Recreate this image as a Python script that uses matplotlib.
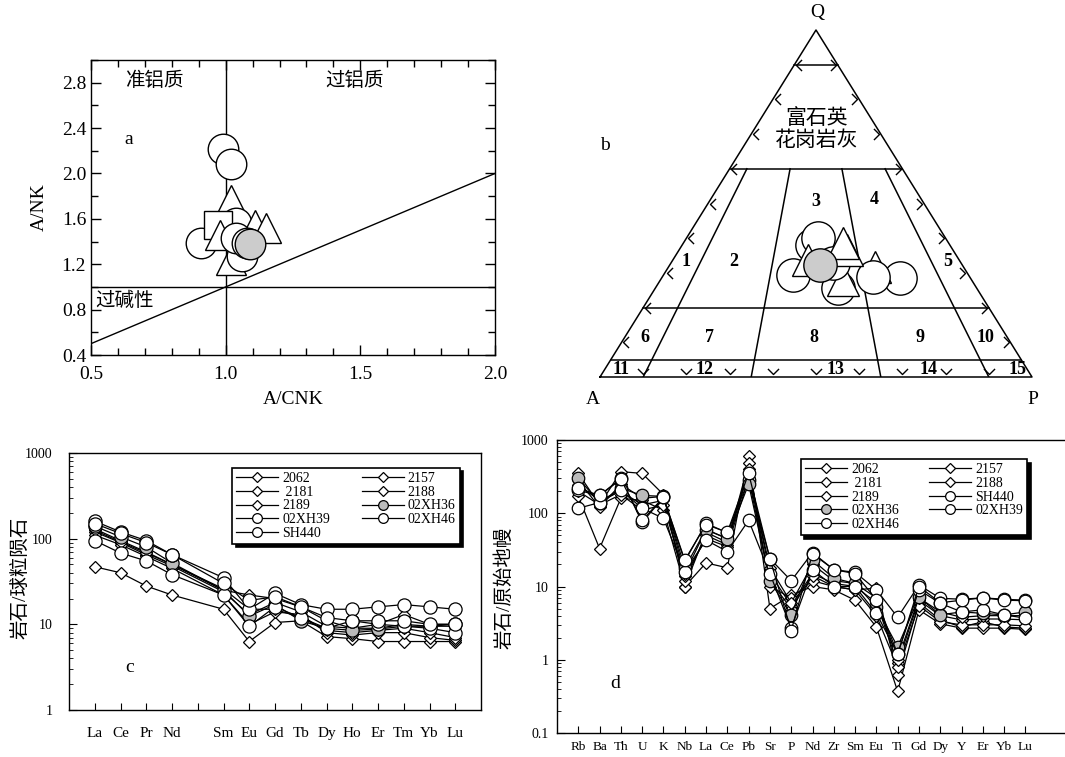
import matplotlib
matplotlib.use('Agg')
import matplotlib.pyplot as plt
import numpy as np
from matplotlib.path import Path
from matplotlib.ticker import LogLocator, NullFormatter, FixedLocator, MultipleLocator
from matplotlib.lines import Line2D

plt.rcParams['font.family'] = ['Liberation Serif', 'Noto Sans CJK SC']
plt.rcParams['axes.linewidth'] = 1.0

# ---------------- Panel a data (A/CNK vs A/NK) ----------------
a_x = [0.99, 1.02, 1.02, 1.04, 0.91, 0.97, 0.98, 1.11, 1.15, 1.02, 1.06, 1.04, 1.08, 1.09]
a_y = [2.22, 2.08, 1.77, 1.56, 1.39, 1.55, 1.46, 1.55, 1.52, 1.24, 1.27, 1.43, 1.39, 1.38]
a_kind = ['o', 'o', '^', 'o', 'o', 's', '^', '^', '^', '^', 'o', 'o', 'o', 'g']

# ---------------- Panel b data (QAP ternary) ----------------
b_Q = [0.284, 0.318, 0.289, 0.256, 0.280, 0.294, 0.380, 0.400, 0.328, 0.337, 0.366, 0.385, 0.323]
b_P = [0.552, 0.478, 0.488, 0.424, 0.423, 0.300, 0.300, 0.305, 0.376, 0.314, 0.388, 0.371, 0.348]
b_kind = ['o', '^', 'o', 'o', '^', 'o', 'o', 'o', 'o', '^', '^', '^', 'g']
b_A = [1 - q - p for q, p in zip(b_Q, b_P)]

# ---------------- Panel c data (REE / chondrite) ----------------
ree = ['La', 'Ce', 'Pr', 'Nd', '', 'Sm', 'Eu', 'Gd', 'Tb', 'Dy', 'Ho', 'Er', 'Tm', 'Yb', 'Lu']
ree_pos = [1, 2, 3, 4, 6, 7, 8, 9, 10, 11, 12, 13, 14, 15]
c_2062 = [47, 40, 28, 22, 15, 6.3, 10.5, 11, 7.2, 6.8, 6.3, 6.3, 6.3, 6.3]
c_2157 = [130, 95, 70, 50, 25, 22, 20, 16, 11, 9, 10, 13, 10, 10]
c_2181 = [120, 90, 65, 48, 24, 13, 18, 14, 9.5, 9, 9, 10, 9.5, 9.5]
c_2188 = [110, 85, 62, 45, 22, 10, 14, 13, 8, 7.5, 8, 8, 7, 6.5]
c_2189 = [125, 92, 68, 50, 26, 15, 15, 12, 8.5, 8, 8.5, 9, 8, 7]
c_02XH36 = [140, 105, 80, 52, 25, 12.5, 17, 11, 9, 8.5, 8.8, 9.5, 9.5, 10]
c_02XH39 = [95, 68, 55, 38, 22, 9.5, 16, 12, 9, 11, 10, 9.5, 9, 8]
c_02XH46 = [160, 120, 95, 65, 35, 15, 23, 17, 15, 15, 16, 17, 16, 15]
c_SH440 = [150, 115, 90, 65, 30, 19, 21, 16, 12, 11, 11, 11, 10, 10]

# ---------------- Panel d data (spider / primitive mantle) ----------------
spd = ['Rb', 'Ba', 'Th', 'U', 'K', 'Nb', 'La', 'Ce', 'Pb', 'Sr', 'P', 'Nd', 'Zr', 'Sm',
       'Eu', 'Ti', 'Gd', 'Dy', 'Y', 'Er', 'Yb', 'Lu']
d_2062 = [170, 33, 160, 150, 110, 10, 21, 18, 600, 5, 7.6, 10, 9, 6.5, 2.8, 0.37, 4.8, 3.1, 2.7, 2.7, 2.7, 2.6]
d_2157 = [350, 130, 370, 350, 180, 10, 55, 40, 480, 10, 7, 12, 10, 9, 9.5, 0.62, 6, 3.5, 2.8, 3.3, 2.8, 2.7]
d_2181 = [240, 150, 200, 130, 150, 12, 50, 37, 400, 15, 5.5, 15, 11, 10, 6, 0.9, 6.5, 4, 3.5, 3.6, 3.6, 3.5]
d_2188 = [200, 130, 180, 110, 130, 14, 45, 35, 300, 12, 5, 14, 10, 9, 4, 0.8, 5.5, 3.3, 3, 3, 3, 2.9]
d_2189 = [280, 120, 250, 160, 170, 15, 60, 45, 350, 18, 6, 20, 12, 11, 7, 1.0, 7, 4.5, 3.8, 4, 4, 4]
d_SH440 = [205, 175, 300, 75, 165, 22, 73, 54, 285, 24, 12, 29, 17, 15.6, 9, 3.8, 10.5, 6.9, 6.7, 7, 6.7, 6.5]
d_02XH36 = [300, 140, 220, 175, 170, 18, 60, 45, 250, 12, 4.1, 23, 13, 11, 5.2, 1.5, 7.1, 4.1, 4.5, 4.3, 4.1, 4.5]
d_02XH39 = [117, 140, 205, 117, 85, 16, 43, 30, 80, 15, 2.7, 17, 10, 10, 4.3, 1.2, 9, 5.9, 4.5, 4.8, 4.1, 3.7]
d_02XH46 = [220, 175, 290, 80, 165, 23, 70, 55, 350, 24, 2.5, 28, 17, 15, 6.6, 1.2, 10, 6, 6.5, 7, 6.5, 6.4]

fig = plt.figure(figsize=(10.65, 7.57), dpi=100)

def mk_style(kind, size):
    if kind == 'g':
        return dict(marker='o', ms=size, mfc='#cccccc', mec='black', mew=1.0)
    if kind == 'o':
        return dict(marker='o', ms=size, mfc='white', mec='black', mew=1.0)
    if kind == '^':
        return dict(marker='^', ms=size * 0.95, mfc='white', mec='black', mew=1.0)
    if kind == 's':
        return dict(marker='s', ms=size * 0.9, mfc='white', mec='black', mew=1.0)

# ======================= Panel a =======================
axa = fig.add_axes([91 / 1065, 1 - 355 / 757, 404 / 1065, 295 / 757])
axa.set_xlim(0.5, 2.0)
axa.set_ylim(0.4, 3.0)
lx = np.array([0.5, 2.0])
axa.plot(lx, lx, color='black', lw=1.0)
axa.axhline(1.0, color='black', lw=1.0)
axa.axvline(1.0, color='black', lw=1.0)
for i, (x, y, k) in enumerate(zip(a_x, a_y, a_kind)):
    axa.plot([x], [y], ls='none', zorder=3 + i * 0.01, **mk_style(k, 22))
axa.xaxis.set_major_locator(FixedLocator([0.5, 1.0, 1.5, 2.0]))
axa.xaxis.set_minor_locator(MultipleLocator(0.1))
axa.yaxis.set_major_locator(FixedLocator([0.4, 0.8, 1.2, 1.6, 2.0, 2.4, 2.8]))
axa.yaxis.set_minor_locator(MultipleLocator(0.2))
axa.set_xticklabels(['0.5', '1.0', '1.5', '2.0'])
axa.set_yticklabels(['0.4', '0.8', '1.2', '1.6', '2.0', '2.4', '2.8'])
axa.tick_params(which='both', direction='in', top=True, right=True, labelsize=14)
axa.tick_params(which='major', length=7, width=1)
axa.tick_params(which='minor', length=5, width=1)
axa.tick_params(axis='x', pad=8)
axa.set_xlabel('A/CNK', fontsize=14, labelpad=6)
axa.set_ylabel('A/NK', fontsize=14, labelpad=10)
axa.text(0.735, 2.82, '准铝质', fontsize=14, ha='center', va='center')
axa.text(1.48, 2.82, '过铝质', fontsize=14, ha='center', va='center')
axa.text(0.625, 0.875, '过碱性', fontsize=14, ha='center', va='center')
axa.text(0.64, 2.3, 'a', fontsize=14, ha='center', va='center')

# ======================= Panel b =======================
axb = fig.add_axes([600 / 1065, 1 - 377 / 757, 432 / 1065, 347 / 757])
axb.set_xlim(0, 1)
axb.set_ylim(0, 1)
axb.axis('off')

def tern(q, p):
    return p + q / 2.0, q

lw = 1.1
axb.plot([0, 1, 0.5, 0], [0, 0, 1, 0], color='black', lw=lw, clip_on=False)
for q in [0.9, 0.6, 0.2, 0.05]:
    axb.plot([q / 2, 1 - q / 2], [q, q], color='black', lw=lw)
for r in [0.1, 0.35, 0.65, 0.9]:
    qq = np.array([0.6, 0.0])
    xs = (1 - qq) * r + qq / 2
    axb.plot(xs, qq, color='black', lw=lw)

chev_left = Path([(1, 1), (0, 0), (1, -1)], [Path.MOVETO, Path.LINETO, Path.LINETO])
chev_right = Path([(-1, 1), (0, 0), (-1, -1)], [Path.MOVETO, Path.LINETO, Path.LINETO])
chev_down = Path([(-1, 1), (0, 0), (1, 1)], [Path.MOVETO, Path.LINETO, Path.LINETO])
qs = np.arange(1, 10) / 10.0
axb.plot(qs / 2 + 0.004, qs, ls='none', marker=chev_left, ms=8, mfc='none', mec='black', mew=1.0)
axb.plot(1 - qs / 2 - 0.004, qs, ls='none', marker=chev_right, ms=8, mfc='none', mec='black', mew=1.0)
axb.plot(qs, np.full_like(qs, 0.008), ls='none', marker=chev_down, ms=8, mfc='none', mec='black', mew=1.0)

for i, (q, p, k) in enumerate(zip(b_Q, b_P, b_kind)):
    X, Y = tern(q, p)
    axb.plot([X], [Y], ls='none', zorder=3 + i * 0.01, **mk_style(k, 24))

def pxy(px, py):
    return (px - 600) / 432.0, (377 - py) / 347.0

def btext(px, py, s, **kw):
    x, y = pxy(px, py)
    axb.text(x, y, s, ha='center', va='center', clip_on=False, **kw)

btext(817, 13, 'Q', fontsize=14)
btext(593, 400, 'A', fontsize=14)
btext(1033, 400, 'P', fontsize=14)
btext(605, 146, 'b', fontsize=14)
btext(817, 119, '富石英', fontsize=15)
btext(817, 141, '花岗岩灰', fontsize=15)
nums = [('1', 686, 261), ('2', 734, 261), ('3', 816, 201), ('4', 874, 199), ('5', 948, 262),
        ('6', 645, 337), ('7', 710, 337), ('8', 814, 337), ('9', 920, 337), ('10', 985, 337),
        ('11', 621, 370), ('12', 705, 370), ('13', 836, 370), ('14', 929, 370), ('15', 1018, 370)]
for s, px, py in nums:
    btext(px, py, s, fontsize=13, fontweight='bold')

# ======================= Panel c =======================
axc = fig.add_axes([69 / 1065, 1 - 710 / 757, 412 / 1065, 257 / 757])
axc.set_yscale('log')
axc.set_xlim(0, 16)
axc.set_ylim(1, 1000)
c_series = [('2062', c_2062, 'D'), ('2157', c_2157, 'D'), (' 2181', c_2181, 'D'),
            ('2188', c_2188, 'D'), ('2189', c_2189, 'D'), ('02XH36', c_02XH36, 'g'),
            ('02XH39', c_02XH39, 'o'), ('02XH46', c_02XH46, 'o'), ('SH440', c_SH440, 'o')]
c_handles = {}
for lab, vals, k in c_series:
    if k == 'D':
        st = dict(marker='D', ms=6.5, mfc='white', mec='black', mew=0.9)
    elif k == 'g':
        st = dict(marker='o', ms=9.5, mfc='#bbbbbb', mec='black', mew=0.9)
    else:
        st = dict(marker='o', ms=9.5, mfc='white', mec='black', mew=0.9)
    ln, = axc.plot(ree_pos, vals, color='black', lw=0.9, **st)
    hst = dict(st)
    hst['ms'] = 5 if k == 'D' else 7
    c_handles[lab] = Line2D([], [], color='black', lw=0.9, **hst)
axc.set_xticks(range(1, 16))
axc.set_xticklabels(ree)
axc.yaxis.set_minor_locator(LogLocator(base=10, subs=np.arange(2, 10), numticks=20))
axc.yaxis.set_minor_formatter(NullFormatter())
axc.set_yticks([1, 10, 100, 1000])
axc.set_yticklabels(['1', '10', '100', '1000'])
axc.tick_params(which='both', direction='in')
axc.tick_params(axis='x', labelsize=11, pad=12, length=5)
axc.tick_params(axis='y', which='major', labelsize=10, length=6, pad=12)
axc.tick_params(axis='y', which='minor', length=3)
fig.text(20 / 1065, 1 - 578 / 757, '岩石/球粒陨石', fontsize=14, rotation=90,
         ha='center', va='center')
axc.text(2.37, 3.1, 'c', fontsize=14, ha='center', va='center')
c_order = ['2062', ' 2181', '2189', '02XH39', 'SH440', '2157', '2188', '02XH36', '02XH46']
legc = axc.legend([c_handles[k] for k in c_order], c_order, ncol=2, loc='upper left',
                  bbox_to_anchor=(0.396, 0.942), borderaxespad=0, fontsize=10,
                  frameon=True, fancybox=False, edgecolor='black', framealpha=1,
                  handlelength=3.0, handletextpad=0.3, labelspacing=0.05, columnspacing=2.3,
                  borderpad=0.3, shadow={'ox': 2.5, 'oy': -2.5, 'color': 'black', 'alpha': 1})
legc.get_frame().set_linewidth(1.2)

# ======================= Panel d =======================
axd = fig.add_axes([557 / 1065, 1 - 733 / 757, 511 / 1065, 293 / 757])
axd.set_yscale('log')
axd.set_xlim(0, 24)
axd.set_ylim(0.1, 1000)
d_pos = np.arange(1, len(spd) + 1)
d_series = [('2062', d_2062, 'D'), ('2157', d_2157, 'D'), (' 2181', d_2181, 'D'),
            ('2188', d_2188, 'D'), ('2189', d_2189, 'D'), ('SH440', d_SH440, 'o'),
            ('02XH36', d_02XH36, 'g'), ('02XH39', d_02XH39, 'o'), ('02XH46', d_02XH46, 'o')]
d_handles = {}
for lab, vals, k in d_series:
    if k == 'D':
        st = dict(marker='D', ms=6.5, mfc='white', mec='black', mew=0.9)
    elif k == 'g':
        st = dict(marker='o', ms=9, mfc='#bbbbbb', mec='black', mew=0.9)
    else:
        st = dict(marker='o', ms=9, mfc='white', mec='black', mew=0.9)
    axd.plot(d_pos, vals, color='black', lw=0.9, **st)
    hst = dict(st)
    hst['ms'] = 5 if k == 'D' else 7
    d_handles[lab] = Line2D([], [], color='black', lw=0.9, **hst)
axd.set_xticks(d_pos)
axd.set_xticklabels(spd)
axd.set_yticks([0.1, 1, 10, 100, 1000])
axd.set_yticklabels(['0.1', '1', '10', '100', '1000'])
axd.yaxis.set_minor_locator(LogLocator(base=10, subs=np.arange(2, 10), numticks=20))
axd.yaxis.set_minor_formatter(NullFormatter())
axd.tick_params(which='both', direction='in')
axd.tick_params(axis='x', labelsize=9.5, pad=6, length=5)
axd.tick_params(axis='y', which='major', labelsize=10, length=6, pad=6)
axd.tick_params(axis='y', which='minor', length=3)
axd.spines['right'].set_visible(False)
fig.text(504 / 1065, 1 - 588 / 757, '岩石/原始地幔', fontsize=14, rotation=90,
         ha='center', va='center')
axd.text(2.72, 0.48, 'd', fontsize=14, ha='center', va='center')
d_order = ['2062', ' 2181', '2189', '02XH36', '02XH46', '2157', '2188', 'SH440', '02XH39']
legd = axd.legend([d_handles[k] for k in d_order], d_order, ncol=2, loc='upper left',
                  bbox_to_anchor=(0.4775, 0.935), borderaxespad=0, fontsize=10,
                  frameon=True, fancybox=False, edgecolor='black', framealpha=1,
                  handlelength=3.0, handletextpad=0.3, labelspacing=0.05, columnspacing=2.2,
                  borderpad=0.3, shadow={'ox': 2.5, 'oy': -2.5, 'color': 'black', 'alpha': 1})
legd.get_frame().set_linewidth(1.2)

fig.savefig('out.png', dpi=100)
